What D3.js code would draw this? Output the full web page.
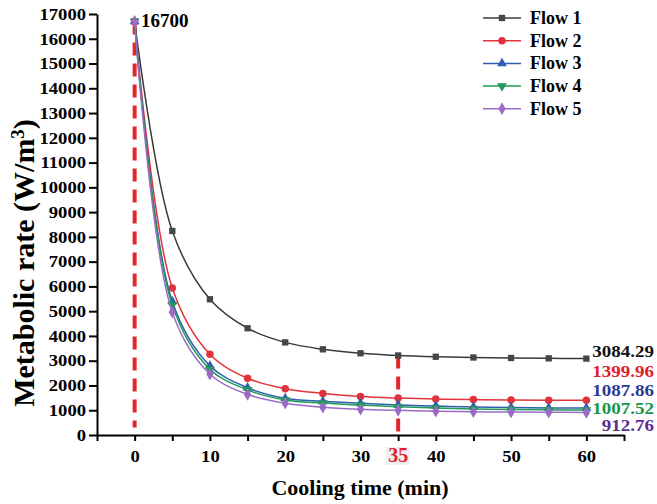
<!DOCTYPE html>
<html>
<head>
<meta charset="utf-8">
<script src="https://cdn.jsdelivr.net/npm/d3@7"></script>
<style>
  body { margin: 0; background: #fff; }
  text { font-family: "Liberation Serif", "Times New Roman", serif; font-weight: bold; }
</style>
</head>
<body>
<svg id="chart"></svg>
<script>
// data
const times = [0, 5, 10, 15, 20, 25, 30, 35, 40, 45, 50, 55, 60];
const flow1 = [16700, 8240, 5480, 4310, 3740, 3460, 3300, 3210, 3160, 3130, 3110, 3095, 3084.29];
const flow2 = [16700, 5940, 3260, 2290, 1870, 1680, 1550, 1490, 1455, 1430, 1415, 1405, 1399.96];
const flow3 = [16700, 5390, 2790, 1910, 1480, 1360, 1280, 1215, 1170, 1130, 1110, 1095, 1087.86];
const flow4 = [16700, 5250, 2650, 1820, 1410, 1290, 1210, 1140, 1090, 1050, 1030, 1015, 1007.52];
const flow5 = [16700, 4960, 2460, 1640, 1280, 1120, 1040, 995, 960, 940, 925, 918, 912.76];
const seriesNames = ["Flow 1", "Flow 2", "Flow 3", "Flow 4", "Flow 5"];
const endLabels = ["3084.29", "1399.96", "1087.86", "1007.52", "912.76"];
const xTicks = [-5, 0, 5, 10, 15, 20, 25, 30, 35, 40, 45, 50, 55, 60, 65];
const xTickLabels = [0, 10, 20, 30, 40, 50, 60];
const yTicks = d3.range(0, 17001, 1000);
const markTime = 35;
const startValue = 16700;

const w = 657, h = 504;
const sx = 1.13; // the reference text is a bit wider than Liberation Serif
const svg = d3.select("#chart").attr("width", w).attr("height", h);

const x = d3.scaleLinear().domain([-5, 65]).range([97, 624]);
const y = d3.scaleLinear().domain([0, 17000]).range([435, 14]);

const styles = [
  { line: "#3a3a3a", fill: "#464646", shape: d3.symbolSquare, size: 40, label: "#111" },
  { line: "#e2323b", fill: "#e2323b", shape: d3.symbolCircle, size: 44, label: "#e0202a" },
  { line: "#2f5fae", fill: "#2f5fae", shape: d3.symbolTriangle, size: 42, label: "#2b3a92" },
  { line: "#1f9a58", fill: "#1f9a58", shape: d3.symbolTriangle, size: 42, rot: 180, label: "#16984a" },
  { line: "#9a6cc4", fill: "#9a6cc4", shape: d3.symbolDiamond, size: 46, label: "#5c2d91" }
];
const flows = [flow1, flow2, flow3, flow4, flow5];

// axes
const xAxis = svg.append("g")
  .attr("transform", `translate(0,${y(0)})`)
  .call(d3.axisBottom(x).tickValues(xTicks).tickSize(6).tickSizeOuter(0)
    .tickFormat(d => xTickLabels.includes(d) ? d : ""));
xAxis.select(".domain").attr("stroke-width", 2);
xAxis.selectAll(".tick line").attr("stroke-width", 2);
xAxis.selectAll(".tick text").attr("font-size", 16.5).attr("font-family", "Liberation Serif")
  .attr("font-weight", "bold").attr("dy", "1.12em").attr("transform", `scale(${sx},1)`);

const yAxis = svg.append("g")
  .attr("transform", `translate(${x(-5)},0)`)
  .call(d3.axisLeft(y).tickValues(yTicks).tickSize(8).tickPadding(3).tickSizeOuter(0)
    .tickFormat(d3.format("d")));
yAxis.select(".domain").attr("stroke-width", 2);
yAxis.selectAll(".tick line").attr("stroke-width", 2);
yAxis.selectAll(".tick text").attr("font-size", 16.5).attr("font-family", "Liberation Serif")
  .attr("font-weight", "bold").attr("x", -11 / sx).attr("transform", `scale(${sx},1)`);

// red dashed markers
const dash = { stroke: "#e4262b", width: 4, pattern: "13,8" };
svg.append("line")
  .attr("x1", x(0)).attr("x2", x(0))
  .attr("y1", y(startValue)).attr("y2", y(300))
  .attr("stroke", dash.stroke).attr("stroke-width", dash.width).attr("stroke-dasharray", dash.pattern);
svg.append("line")
  .attr("x1", x(markTime)).attr("x2", x(markTime))
  .attr("y1", y(flow1[times.indexOf(markTime)])).attr("y2", y(0))
  .attr("stroke", dash.stroke).attr("stroke-width", dash.width).attr("stroke-dasharray", dash.pattern);

// lines + markers
const line = d3.line().x((d, i) => x(times[i])).y(d => y(d)).curve(d3.curveCatmullRom.alpha(0.5));
flows.forEach((vals, k) => {
  const s = styles[k];
  svg.append("path").datum(vals).attr("d", line)
    .attr("fill", "none").attr("stroke", s.line).attr("stroke-width", 1.5);
  svg.append("g").selectAll("path").data(vals).join("path")
    .attr("d", d3.symbol().type(s.shape).size(s.size))
    .attr("transform", (d, i) => `translate(${x(times[i])},${y(d)}) rotate(${s.rot || 0})`)
    .attr("fill", s.fill);
});

// end value labels
const endY = [357, 377, 396, 414, 431];
endLabels.forEach((t, k) => {
  svg.append("text").attr("transform", `translate(654,${endY[k]}) scale(${sx},1)`)
    .attr("text-anchor", "end").attr("font-size", 16.8).attr("fill", styles[k].label).text(t);
});

// 16700 label
svg.append("text").attr("x", 141).attr("y", 27).attr("font-size", 19).text(startValue);

// 35 label
const lbl = svg.append("g").attr("transform", `translate(${x(markTime)},462)`);
lbl.append("rect").attr("x", -12).attr("y", -15).attr("width", 24).attr("height", 18).attr("fill", "#f0f0f0");
lbl.append("text").attr("text-anchor", "middle").attr("font-size", 20).attr("fill", "#e0202a").text(markTime);

// legend
const legend = svg.append("g").attr("transform", "translate(483,18)");
seriesNames.forEach((name, k) => {
  const s = styles[k];
  const g = legend.append("g").attr("transform", `translate(0,${k * 22.7})`);
  g.append("line").attr("x1", 0).attr("x2", 38).attr("stroke", s.line).attr("stroke-width", 1.5);
  g.append("path").attr("d", d3.symbol().type(s.shape).size(s.size)())
    .attr("transform", `translate(19,0) rotate(${s.rot || 0})`).attr("fill", s.fill);
  g.append("text").attr("x", 47).attr("y", 6).attr("font-size", 18).text(name);
});

// axis titles
svg.append("text").attr("x", 360).attr("y", 495).attr("text-anchor", "middle")
  .attr("font-size", 22).text("Cooling time (min)");

const yt = svg.append("text").attr("transform", "translate(34,263) rotate(-90)")
  .attr("text-anchor", "middle").attr("font-size", 30);
yt.append("tspan").text("Metabolic rate (W/m");
yt.append("tspan").attr("baseline-shift", "super").attr("font-size", 19).text("3");
yt.append("tspan").text(")");
</script>
</body>
</html>
